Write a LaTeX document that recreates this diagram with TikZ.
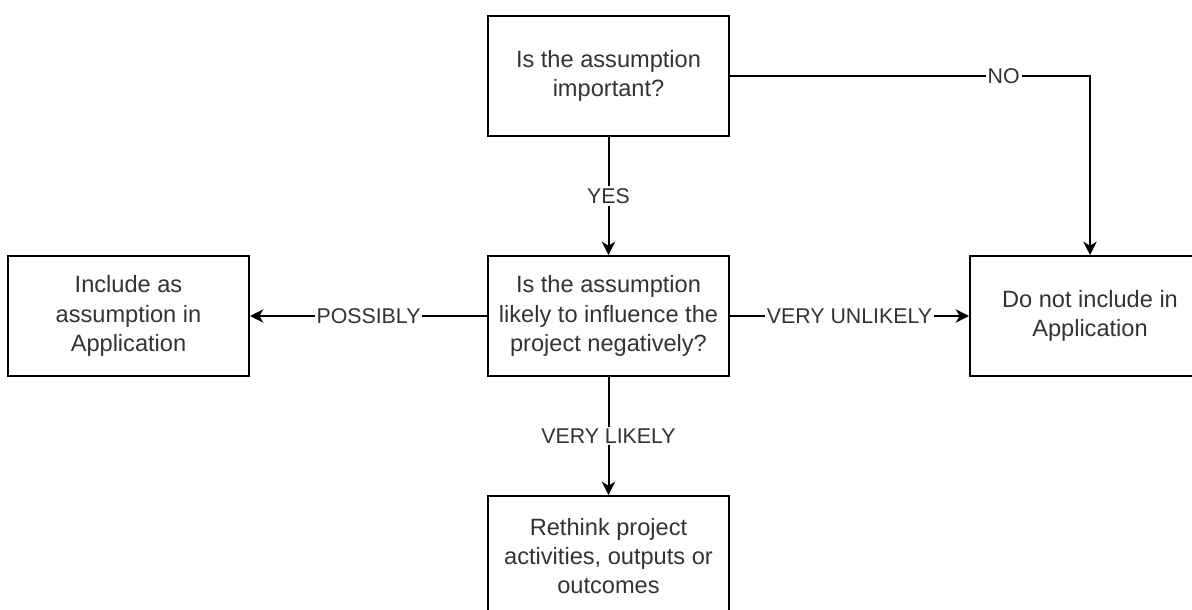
\documentclass[tikz,border=0pt]{standalone}
\usepackage{fontspec}
\setmainfont{Liberation Sans}
\usetikzlibrary{arrows.meta}
\tikzset{every picture/.style={line width=1.5pt}}
\definecolor{txtgray}{RGB}{51,51,51}
\tikzset{
  box/.style={draw, rectangle, minimum width=180.75pt, minimum height=90pt, align=center, inner sep=0pt, text=txtgray, font=\fontsize{17.7}{22}\selectfont},
  flow/.style={-{Stealth[length=10pt,width=10pt,inset=3pt]}},
  lbl/.style={fill=white, inner sep=1.5pt, text=txtgray, font=\fontsize{16}{19}\selectfont},
}

\begin{document}
\begin{tikzpicture}[x=0.75pt,y=0.75pt,yscale=-1,xscale=1]
\clip (0,0) rectangle (1192,610); %set diagram size 1192 x 610

%Shape: Rectangle
\node [box] (imp) at (608.5,76) {Is the assumption\\important?};
%Shape: Rectangle
\node [box] (neg) at (608.5,316) {Is the assumption\\likely to influence the\\project negatively?};
%Shape: Rectangle
\node [box] (incl) at (128.5,316) {Include as\\assumption in\\Application};
%Shape: Rectangle
\node [box, minimum width=180pt] (dont) at (1090,316) {Do not include in\\Application};
%Shape: Rectangle
\node [box] (rethink) at (608.5,556) {Rethink project\\activities, outputs or\\outcomes};

%Straight Lines
\draw [flow] (imp) -- node [lbl] {YES} (neg);
%Straight Lines
\draw [flow] (imp.east) -| node [lbl, pos=0.38] {NO} (dont.north);
%Straight Lines
\draw [flow] (neg) -- node [lbl] {POSSIBLY} (incl);
%Straight Lines
\draw [flow] (neg) -- node [lbl] {VERY UNLIKELY} (dont);
%Straight Lines
\draw [flow] (neg) -- node [lbl] {VERY LIKELY} (rethink);

\end{tikzpicture}
\end{document}
